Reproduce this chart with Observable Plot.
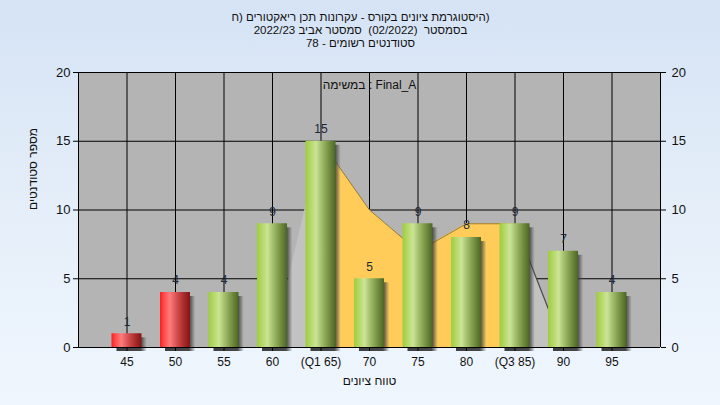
<!DOCTYPE html>
<html>
<head>
<meta charset="utf-8">
<script src="https://cdn.jsdelivr.net/npm/d3@7"></script>
<script src="https://cdn.jsdelivr.net/npm/@observablehq/plot@0.6"></script>
<style>
  html, body { margin: 0; padding: 0; }
  body { width: 720px; height: 405px; overflow: hidden;
         background: linear-gradient(to bottom, #d5e3f5 0%, #e6eff9 55%, #eff6fe 100%); }
</style>
</head>
<body>
<div id="chart"></div>
<script>
// ---- data ----
const categories = ["45", "50", "55", "60", "(Q1 65)", "70", "75", "80", "(Q3 85)", "90", "95"];
const counts = [1, 4, 4, 9, 15, 5, 9, 8, 9, 7, 4];
const failing = ["45", "50"];
const rangeCats = ["60", "(Q1 65)", "70", "75", "80", "(Q3 85)", "90"];
const rangeValues = [0, 15, 10, 7, 9, 9, 0];
const iqrCats = ["(Q1 65)", "70", "75", "80", "(Q3 85)"];
const iqrValues = [15, 10, 7, 9, 9];
const yTicks = [0, 5, 10, 15, 20];
// the closing bracket is isolated so it lays out as in the original (LTR context, unpaired brackets)
const titleLines = [
  "היסטוגרמת ציונים בקורס - עקרונות תכן ריאקטורים (ח\u2066)\u2069",
  "בסמסטר  (02/2022)  סמסטר אביב 2022/23",
  "סטודנטים רשומים - 78"
];
const legendText = "במשימה : Final_A";
const xTitle = "טווח ציונים";
const yTitle = "מספר סטודנטים";

// ---- derived tables ----
const bars = categories.map((c, i) => ({i, c, n: counts[i], fail: failing.includes(c)}));
const rangeData = rangeCats.map((c, k) => ({i: categories.indexOf(c), v: rangeValues[k]}));
const iqrData = iqrCats.map((c, k) => ({i: categories.indexOf(c), v: iqrValues[k]}));
const hw = 0.309; // half bar width in category steps

const font = "'Liberation Sans', Arial, 'DejaVu Sans', sans-serif";
const txt = {fontSize: 12, fill: "#111", fontFamily: font};

function defs() {
  const d = d3.create("svg:defs");
  const grad = (id, stops) => {
    const g = d.append("linearGradient").attr("id", id)
      .attr("x1", "0").attr("x2", "1").attr("y1", "0").attr("y2", "0");
    for (const [o, c, op] of stops) g.append("stop").attr("offset", o).attr("stop-color", c).attr("stop-opacity", op ?? 1);
  };
  grad("gGreen", [[0, "#9fcd3c"], [0.12, "#aed55a"], [0.35, "#cbe496"], [0.5, "#aac574"], [0.75, "#7a9545"], [1, "#4b6623"]]);
  grad("gRed", [[0, "#ff1c1c"], [0.12, "#ff4848"], [0.33, "#ff7c7c"], [0.55, "#d65050"], [0.8, "#a82a2a"], [1, "#861414"]]);
  grad("gShadow", [[0, "#2a2a2a", 0.9], [0.8, "#2a2a2a", 0.85], [0.9, "#444", 0.55], [1, "#666", 0.1]]);
  return d.node();
}

const titleMarks = titleLines.map((t, k) =>
  Plot.text([t], {frameAnchor: "top", dx: -9, dy: -55 + 13 * k, ...txt, fontSize: 11.5, lineAnchor: "middle"}));

const plot = Plot.plot({
  width: 720,
  height: 405,
  marginLeft: 78,
  marginRight: 60,
  marginTop: 72,
  marginBottom: 58,
  style: {background: "transparent", fontFamily: font, fontSize: "12px", overflow: "visible"},
  x: {type: "linear", domain: [-1, categories.length], axis: null},
  y: {domain: [0, 20], axis: null},
  marks: [
    defs,
    Plot.frame({fill: "#b4b4b4", stroke: null}),
    Plot.gridY(yTicks, {stroke: "#000", strokeOpacity: 1}),
    Plot.gridX(bars.map(d => d.i), {stroke: "#000", strokeOpacity: 1}),
    Plot.areaY(rangeData, {x: "i", y: "v", fill: "#c2c2c2"}),
    Plot.lineY(rangeData.slice(-2), {x: "i", y: "v", stroke: "#4a4a4a", strokeWidth: 1.2}),
    Plot.areaY(iqrData, {x: "i", y: "v", fill: "#ffcc5a"}),
    Plot.lineY(iqrData, {x: "i", y: "v", stroke: "#9a7a30", strokeWidth: 1}),
    Plot.rectY(bars, {x1: d => d.i - hw, x2: d => d.i + hw, y: "n", dx: 5, dy: 4, fill: "url(#gShadow)"}),
    Plot.rectY(bars.filter(d => d.fail), {x1: d => d.i - hw, x2: d => d.i + hw, y: "n", fill: "url(#gRed)"}),
    Plot.rectY(bars.filter(d => !d.fail), {x1: d => d.i - hw, x2: d => d.i + hw, y: "n", fill: "url(#gGreen)"}),
    Plot.text(bars, {x: "i", y: "n", text: d => String(d.n), dy: -12, ...txt, fill: "#1c2838", lineAnchor: "middle"}),
    Plot.ruleX([-1, categories.length], {stroke: "#000"}),
    Plot.ruleY([0, 20], {stroke: "#000"}),
    Plot.axisY(yTicks, {anchor: "left", tickSize: 5, tickPadding: 3, fontSize: 13, label: null, stroke: "#000", color: "#111"}),
    Plot.axisY(yTicks, {anchor: "right", tickSize: 5, tickPadding: 6, fontSize: 13, label: null, stroke: "#000", color: "#111"}),
    Plot.axisX(bars.map(d => d.i), {anchor: "bottom", tickSize: 4, tickPadding: 6, tickFormat: i => categories[i], fontSize: 12, label: null, stroke: "#000", color: "#111"}),
    Plot.text([legendText], {frameAnchor: "top", dy: 13, ...txt, lineAnchor: "middle"}),
    Plot.text([xTitle], {frameAnchor: "bottom", dy: 34, ...txt, lineAnchor: "middle"}),
    Plot.text([yTitle], {frameAnchor: "left", dx: -45, rotate: -90, ...txt, lineAnchor: "middle"}),
    ...titleMarks
  ]
});
document.getElementById("chart").appendChild(plot);
</script>
</body>
</html>
